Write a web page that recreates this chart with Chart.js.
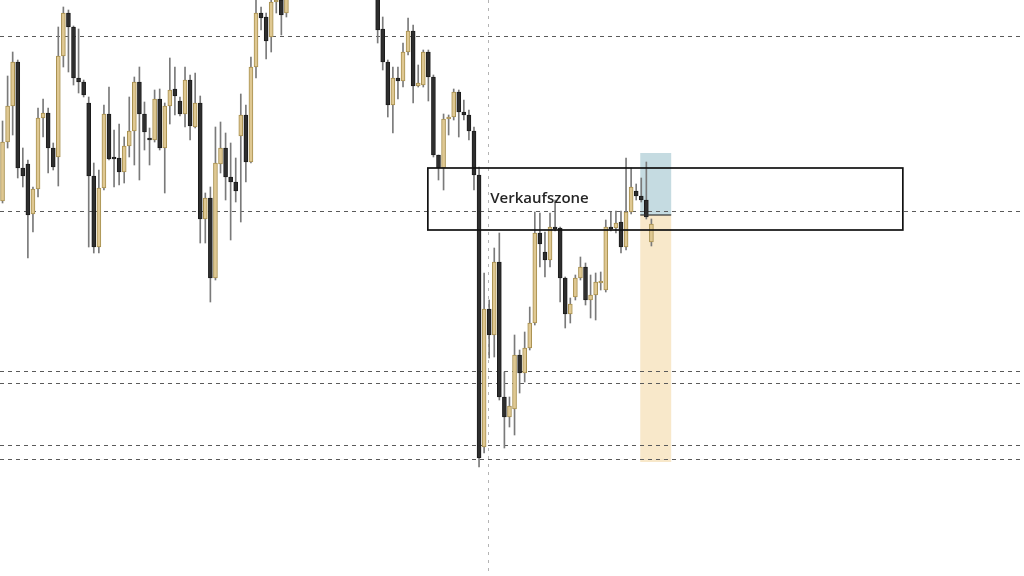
<!DOCTYPE html>
<html>
<head>
<meta charset="utf-8">
<script src="https://cdn.jsdelivr.net/npm/chart.js@4.4.0/dist/chart.umd.min.js"></script>
<style>
  html, body { margin: 0; padding: 0; background: #fff; overflow: hidden; }
  canvas { display: block; }
</style>
</head>
<body>
<canvas id="chart" width="1024" height="576"></canvas>
<script>
// candles, one per slot; null = out of view (above the top of the chart)
const opens = [375,434,470,514,408,412,362,387,458,463,428,419,520,563,549,498,494,473,400,329,388,462,419,418,404,430,445,494,462,438,436,477,428,470,487,475,462,496,449,473,357,378,298,412,428,399,394,440,461,414,509,563,559,539,574,576,563,
  null,null,null,null,null,null,null,null,null,null,null,null,null,null,null,null,null,
  581,547,514,471,498,495,524,545,490,491,524,499,421,408,457,459,484,464,461,445,401,129,267,241,314,179,159,167,221,203,228,253,343,324,316,349,348,298,262,279,298,309,276,281,293,286,349,348,354,329,364,385,380,376,334];
const highs = [455,500,524,516,428,416,389,468,477,468,433,549,569,566,550,547,496,479,413,406,471,489,446,452,439,479,499,509,474,448,486,487,473,518,509,479,509,501,503,480,383,389,449,454,443,433,418,482,471,519,581,569,563,581,586,581,586,
  null,null,null,null,null,null,null,null,null,null,null,null,null,null,null,null,null,
  586,559,516,509,509,533,558,551,511,526,526,501,421,462,461,487,486,476,466,449,409,303,276,328,343,204,179,241,226,244,269,364,363,344,363,376,349,299,278,301,319,313,301,303,304,356,364,365,365,418,408,392,398,414,357];
const lows = [373,428,441,398,389,318,344,379,439,403,406,390,509,504,491,483,479,329,323,323,386,416,389,391,393,419,411,396,426,411,434,426,383,452,461,460,449,436,448,333,333,274,296,403,376,336,374,354,394,413,498,546,517,524,563,541,559,
  null,null,null,null,null,null,null,null,null,null,null,null,null,null,null,null,null,
  533,506,459,443,477,489,521,473,489,489,475,419,396,386,441,456,439,456,436,386,109,123,218,219,176,128,149,141,183,194,226,251,309,299,309,345,274,248,253,276,296,271,258,256,286,284,345,343,323,326,362,376,374,357,330];
const closes = [434,470,514,408,400,361,387,458,463,428,409,520,563,549,498,494,481,400,329,388,462,417,417,404,430,445,494,462,444,436,477,428,470,486,480,462,496,450,473,357,378,298,413,428,399,394,385,461,414,509,563,558,535,574,576,561,579,
  null,null,null,null,null,null,null,null,null,null,null,null,null,null,null,null,null,
  546,514,471,498,495,524,545,490,493,524,499,421,408,457,459,484,464,461,445,401,118,267,241,314,179,159,170,221,203,228,253,343,332,316,349,347,298,262,272,298,309,276,281,294,295,349,347,353,329,364,389,380,376,359,352];

const slotCount = 202;
const labels = Array.from({ length: slotCount }, (_, i) => i);

// drawn levels and boxes (price units, slot index on x)
const levels = [540, 365, 205, 193, 131, 117];
const crossX = 95.8;
const zone = { x0: 83.9, x1: 177.6, top: 408, bottom: 346, label: 'Verkaufszone', textX: 96.2, textY: 377 };
const riskBox = { x0: 125.8, x1: 131.9, top: 423, entry: 361, bottom: 114 };

const up = '#dfc892', upBorder = '#a8904f';
const down = '#2e2e2e', downBorder = '#1c1c1c';

const bodies = opens.map((o, i) => o == null ? null : [o, closes[i]]);
const wicks = lows.map((l, i) => l == null ? null : [l, highs[i]]);
const bodyColors = opens.map((o, i) => closes[i] >= o ? up : down);
const bodyBorders = opens.map((o, i) => closes[i] >= o ? upBorder : downBorder);

const overlay = {
  id: 'overlay',
  beforeDatasetsDraw(chart) {
    const { ctx, scales: { x, y } } = chart;
    const area = chart.chartArea;
    ctx.save();
    // position box
    const bx0 = x.getPixelForValue(riskBox.x0), bx1 = x.getPixelForValue(riskBox.x1);
    ctx.fillStyle = 'rgba(150,190,200,0.55)';
    ctx.fillRect(bx0, y.getPixelForValue(riskBox.top), bx1 - bx0, y.getPixelForValue(riskBox.entry) - y.getPixelForValue(riskBox.top));
    ctx.fillStyle = 'rgba(242,210,150,0.5)';
    ctx.fillRect(bx0, y.getPixelForValue(riskBox.entry), bx1 - bx0, y.getPixelForValue(riskBox.bottom) - y.getPixelForValue(riskBox.entry));
    // dashed levels
    ctx.lineWidth = 1;
    ctx.strokeStyle = '#5a5a5a';
    ctx.setLineDash([4, 4]);
    levels.forEach(v => {
      const py = Math.round(y.getPixelForValue(v)) + 0.5;
      ctx.beginPath();
      ctx.moveTo(area.left, py);
      ctx.lineTo(area.right, py);
      ctx.stroke();
    });
    // crosshair
    ctx.strokeStyle = '#b4b4b4';
    ctx.setLineDash([3, 5]);
    const cx = Math.round(x.getPixelForValue(crossX)) + 0.5;
    ctx.beginPath();
    ctx.moveTo(cx, area.top);
    ctx.lineTo(cx, area.bottom);
    ctx.stroke();
    ctx.restore();
  },
  afterDatasetsDraw(chart) {
    const { ctx, scales: { x, y } } = chart;
    ctx.save();
    const bx0 = x.getPixelForValue(riskBox.x0), bx1 = x.getPixelForValue(riskBox.x1);
    ctx.strokeStyle = '#333';
    ctx.lineWidth = 1.2;
    ctx.beginPath();
    const ey = y.getPixelForValue(riskBox.entry);
    ctx.moveTo(bx0, ey);
    ctx.lineTo(bx1, ey);
    ctx.stroke();
    // zone rectangle
    const zx0 = x.getPixelForValue(zone.x0), zx1 = x.getPixelForValue(zone.x1);
    const zy0 = y.getPixelForValue(zone.top), zy1 = y.getPixelForValue(zone.bottom);
    ctx.strokeStyle = '#111';
    ctx.lineWidth = 1.7;
    ctx.strokeRect(zx0, zy0, zx1 - zx0, zy1 - zy0);
    ctx.fillStyle = '#262626';
    ctx.font = '600 15px "Open Sans", sans-serif';
    ctx.textBaseline = 'middle';
    ctx.fillText(zone.label, x.getPixelForValue(zone.textX), y.getPixelForValue(zone.textY));
    ctx.restore();
  }
};

new Chart(document.getElementById('chart'), {
  type: 'bar',
  data: {
    labels: labels,
    datasets: [{
      label: 'body',
      data: bodies,
      backgroundColor: bodyColors,
      borderColor: bodyBorders,
      borderWidth: 1,
      borderSkipped: false,
      barThickness: 4,
      grouped: false
    }, {
      label: 'wick',
      data: wicks,
      backgroundColor: '#7a7a7a',
      borderWidth: 0,
      barThickness: 1,
      grouped: false
    }]
  },
  options: {
    responsive: false,
    animation: false,
    layout: { padding: 0 },
    plugins: { legend: { display: false }, tooltip: { enabled: false } },
    scales: {
      x: { display: false, offset: true },
      y: { display: false, min: 0, max: 576 }
    }
  },
  plugins: [overlay]
});
</script>
</body>
</html>
